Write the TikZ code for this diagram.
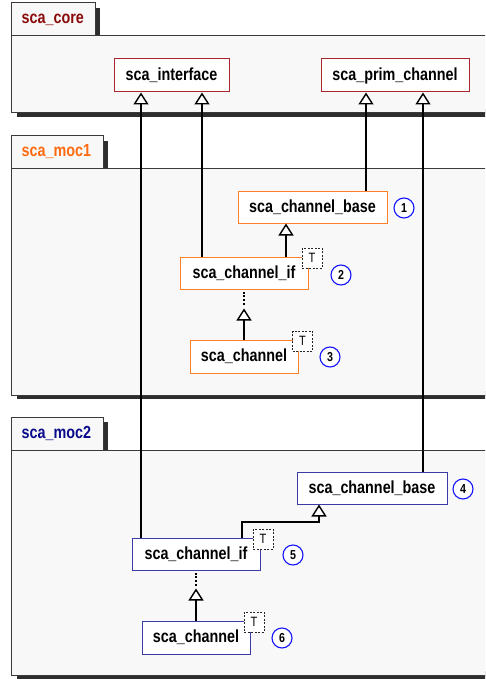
\documentclass[tikz,border=0pt]{standalone}
\usepackage{fontspec}
\setmainfont{Liberation Sans}
\newfontfamily\nar{Liberation Sans}[FakeStretch=0.82]
\usetikzlibrary{arrows.meta,calc}
\definecolor{corec}{HTML}{A8282C}
\definecolor{coret}{HTML}{8B0A0A}
\definecolor{moca}{HTML}{FF7F27}
\definecolor{mocat}{HTML}{FF6A10}
\definecolor{mocb}{HTML}{3A3AA8}
\definecolor{mocbt}{HTML}{0A0A8C}
\definecolor{pkgfill}{HTML}{F8F8F8}
\definecolor{pkgline}{HTML}{3A3A3A}
\definecolor{shadowc}{HTML}{2E2E2E}
\definecolor{numc}{HTML}{1414FF}
\newcommand\umlpkg[6]{%
  \fill[shadowc] (#2,#1+5) rectangle (#2+5,#3);
  \fill[shadowc] (16.5,#4-4) rectangle (520,#4+4);
  \draw[pkgborder] (11.5,#3) rectangle (520,#4);
  \draw[pkgborder] (11.5,#1) rectangle (#2,#3);
  \node[pkglabel,text=#6] (#5) at (21.5,#1+21) {\csname pkgtxt#5\endcsname};
}
\newcommand\pkgtxtcore{sca\_core}
\newcommand\pkgtxtmocone{sca\_moc1}
\newcommand\pkgtxtmoctwo{sca\_moc2}
\begin{document}
\begin{tikzpicture}[x=1pt,y=-1pt,
  pkgborder/.style={draw=pkgline,line width=1pt,fill=pkgfill},
  pkglabel/.style={anchor=base west,inner sep=0pt,font=\nar\fontsize{17.5}{20}\selectfont\bfseries},
  cls/.style={draw,fill=white,line width=1pt,minimum height=32pt,inner sep=0pt,
    font=\nar\fontsize{17.5}{20}\selectfont\bfseries},
  tbox/.style={draw=black!85,dash pattern=on 2pt off 1.5pt,line width=0.8pt,fill=white,
    minimum size=20pt,inner sep=0pt,font=\nar\fontsize{13.5}{14}\selectfont},
  num/.style={circle,draw=numc,line width=1.1pt,fill=white,minimum size=20pt,inner sep=0pt,
    font=\nar\fontsize{13}{14}\selectfont\bfseries},
  inh/.style={line width=1.6pt,-{Triangle[length=12pt,width=15pt,fill=white,line width=1.4pt]}},
  dotline/.style={line width=1.6pt,dash pattern=on 2pt off 1.8pt}
]
\useasboundingbox (0,0) rectangle (485,679);
\clip (0,0) rectangle (485,679);
\fill[white] (0,0) rectangle (485,679);

% packages
\umlpkg{3}{95}{36}{113}{core}{coret}
\umlpkg{136}{103}{169}{395}{mocone}{mocat}
\umlpkg{417}{103}{450}{675}{moctwo}{mocbt}

% classes
\node[cls,draw=corec,minimum width=115pt,minimum height=33pt] (iface) at (171.5,75.5) {sca\_interface};
\node[cls,draw=corec,minimum width=148pt,minimum height=33pt] (prim) at (395,75.5) {sca\_prim\_channel};

\node[cls,draw=moca,minimum width=149pt] (base1) at (312.5,207) {sca\_channel\_base};
\node[cls,draw=moca,minimum width=128pt] (if1) at (244,273) {sca\_channel\_if};
\node[cls,draw=moca,minimum width=108pt,minimum height=33pt] (ch1) at (244,356.5) {sca\_channel};

\node[cls,draw=mocb,minimum width=150pt] (base2) at (372,488) {sca\_channel\_base};
\node[cls,draw=mocb,minimum width=128pt] (if2) at (196,554) {sca\_channel\_if};
\node[cls,draw=mocb,minimum width=108pt,minimum height=33pt] (ch2) at (196,637.5) {sca\_channel};

% x positions of connectors
\coordinate (xa) at (141,0);
\coordinate (xb) at (202,0);
\coordinate (xc) at (366,0);
\coordinate (xd) at (423,0);
\coordinate (xe) at (286,0);
\coordinate (xg) at (242,0);
\coordinate (xh) at (319,0);

% connectors
\draw[inh] (if2.north -| xa) -- (iface.south -| xa);
\draw[inh] (if1.north -| xb) -- (iface.south -| xb);
\draw[inh] (base1.north -| xc) -- (prim.south -| xc);
\draw[inh] (base2.north -| xd) -- (prim.south -| xd);
\draw[inh] (if1.north -| xe) -- (base1.south -| xe);
\draw[inh] (ch1.north) -- ($(if1.south)+(0,19)$);
\draw[dotline] ($(if1.south)+(0,2)$) -- ($(if1.south)+(0,15)$);
\draw[inh] (if2.north -| xg) |- ($(base2.south -| xh)+(0,17.5)$) -- (base2.south -| xh);
\draw[inh] (ch2.north) -- ($(if2.south)+(0,18)$);
\draw[dotline] ($(if2.south)+(0,2)$) -- ($(if2.south)+(0,15)$);

% template markers
\node[tbox] (t1) at (312,258) {T};
\node[tbox] (t2) at (302.5,341) {T};
\node[tbox] (t3) at (263,539) {T};
\node[tbox] (t4) at (254,622) {T};

% numbers
\node[num] (n1) at (404,208) {1};
\node[num] (n2) at (341,275) {2};
\node[num] (n3) at (330,357) {3};
\node[num] (n4) at (463,489) {4};
\node[num] (n5) at (293,555) {5};
\node[num] (n6) at (282,638) {6};
\end{tikzpicture}
\end{document}
